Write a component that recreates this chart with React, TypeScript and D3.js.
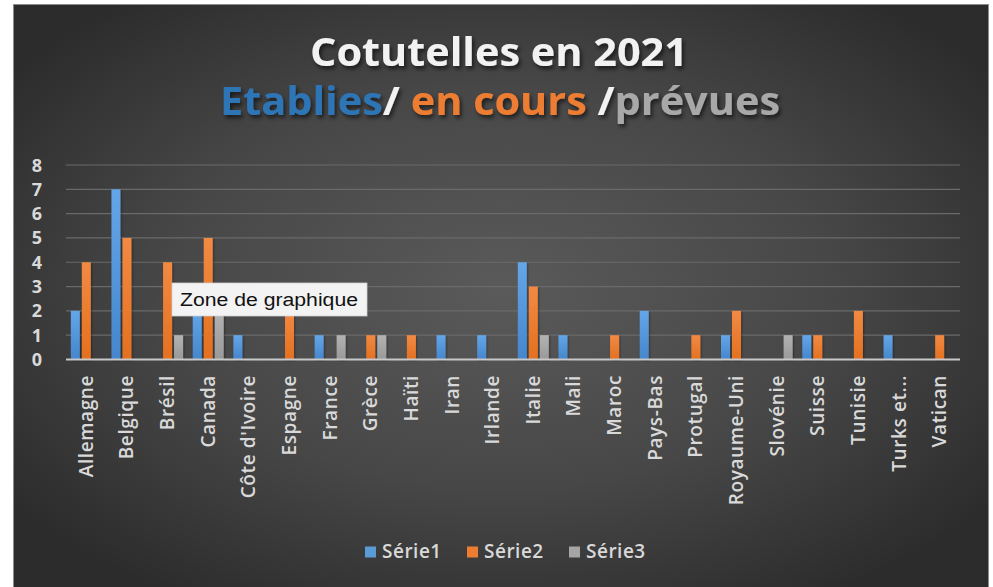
import React from "react";
import * as d3 from "d3";

const categories = [
  "Allemagne", "Belgique", "Brésil", "Canada", "Côte d'Ivoire", "Espagne",
  "France", "Grèce", "Haïti", "Iran", "Irlande", "Italie", "Mali", "Maroc",
  "Pays-Bas", "Protugal", "Royaume-Uni", "Slovénie", "Suisse", "Tunisie",
  "Turks et...", "Vatican",
];
const serie1 = [2, 7, 0, 2, 1, 0, 1, 0, 0, 1, 1, 4, 1, 0, 2, 0, 1, 0, 1, 0, 1, 0];
const serie2 = [4, 5, 4, 5, 0, 2, 0, 1, 1, 0, 0, 3, 0, 1, 0, 1, 2, 0, 1, 2, 0, 1];
const serie3 = [0, 0, 1, 2, 0, 0, 1, 1, 0, 0, 0, 1, 0, 0, 0, 0, 0, 1, 0, 0, 0, 0];
const seriesNames = ["Série1", "Série2", "Série3"];
const yTicks = [0, 1, 2, 3, 4, 5, 6, 7, 8];

const W = 993;
const H = 587;
const colors = ["#5b9bd5", "#ed7d31", "#a5a5a5"];
const gradTop = ["#64a6e8", "#f28a43", "#b3b3b3"];
const gradBot = ["#4586cc", "#e4701f", "#999999"];

export default function App() {
  const x = d3.scaleBand<string>().domain(categories).range([66, 960]).paddingInner(0).paddingOuter(0);
  const y = d3.scaleLinear().domain([0, 8]).range([359.5, 165]);
  const groupW = 31;
  const inner = d3.scaleBand<string>().domain(seriesNames).range([0, groupW]).paddingInner(0.18);
  const data = [serie1, serie2, serie3];
  const font = "'Open Sans', sans-serif";
  const labelColor = "#d9d9d9";

  return (
    <svg width={W} height={H} style={{ position: "absolute", left: 0, top: 0 }}>
      <defs>
        <radialGradient id="bg" cx="50%" cy="48%" r="62%">
          <stop offset="0%" stopColor="#5a5a5a" />
          <stop offset="55%" stopColor="#474747" />
          <stop offset="100%" stopColor="#2c2c2c" />
        </radialGradient>
        {colors.map((c, i) => (
          <linearGradient key={i} id={`bar${i}`} x1="0" y1="0" x2="0" y2="1">
            <stop offset="0%" stopColor={gradTop[i]} />
            <stop offset="100%" stopColor={gradBot[i]} />
          </linearGradient>
        ))}
        <filter id="shadow" x="-10%" y="-30%" width="120%" height="160%">
          <feDropShadow dx="2" dy="3" stdDeviation="2" floodColor="#000" floodOpacity="0.6" />
        </filter>
        <filter id="barShadow" x="-30%" y="-10%" width="160%" height="120%">
          <feDropShadow dx="1" dy="1" stdDeviation="1" floodColor="#000" floodOpacity="0.35" />
        </filter>
      </defs>
      <rect x={0} y={0} width={W} height={H} fill="#ffffff" />
      <rect x={13.5} y={4.5} width={975} height={590} fill="url(#bg)" stroke="#8c8c8c" strokeWidth={1} />

      {/* title */}
      <g filter="url(#shadow)" fontFamily={font} fontWeight={700} textAnchor="middle">
        <text x={499} y={66} fontSize={39} fill="#f2f2f2" textLength={378} lengthAdjust="spacingAndGlyphs">
          Cotutelles en 2021
        </text>
        <text x={500} y={115} fontSize={39} textLength={560} lengthAdjust="spacingAndGlyphs">
          <tspan fill="#2e75b6">Etablies</tspan>
          <tspan fill="#f2f2f2">/ </tspan>
          <tspan fill="#ed7d31">en cours </tspan>
          <tspan fill="#f2f2f2">/</tspan>
          <tspan fill="#a8a8a8">prévues</tspan>
        </text>
      </g>

      {/* gridlines */}
      {yTicks.filter((t) => t > 0).map((t) => (
        <line key={t} x1={66} x2={960} y1={y(t)} y2={y(t)} stroke="#6a6a6a" strokeWidth={1.2} />
      ))}

      {/* y labels */}
      {yTicks.map((t) => (
        <text key={t} x={37} y={y(t) + 6.5} fontFamily={font} fontSize={18} fontWeight={700} fill={labelColor} textAnchor="middle">
          {t}
        </text>
      ))}

      {/* bars */}
      {categories.map((c, ci) => {
        const gx = (x(c) as number) + (x.bandwidth() - groupW) / 2;
        return (
          <g key={c}>
            {data.map((s, si) =>
              s[ci] > 0 ? (
                <rect
                  key={si}
                  x={gx + (inner(seriesNames[si]) as number)}
                  y={y(s[ci])}
                  width={inner.bandwidth()}
                  height={y(0) - y(s[ci])}
                  fill={`url(#bar${si})`}
                  filter="url(#barShadow)"
                />
              ) : null
            )}
          </g>
        );
      })}

      {/* zero axis */}
      <line x1={66} x2={960} y1={y(0)} y2={y(0)} stroke="#c8c8c8" strokeWidth={2} />

      {/* x labels */}
      {categories.map((c) => {
        const cx = (x(c) as number) + x.bandwidth() / 2 + 6.5;
        return (
          <text
            key={c}
            transform={`translate(${cx},${375}) rotate(-90)`}
            fontFamily={font}
            fontSize={19}
            fontWeight={600}
            letterSpacing={0.6}
            fill={labelColor}
            textAnchor="end"
          >
            {c}
          </text>
        );
      })}

      {/* legend */}
      {seriesNames.map((n, i) => {
        const lx = [365, 467, 569][i];
        return (
          <g key={n}>
            <rect x={lx} y={546.5} width={11} height={11} fill={colors[i]} />
            <text x={lx + 17} y={558} fontFamily={font} fontSize={19} fontWeight={600} letterSpacing={0.5} fill={labelColor}>
              {n}
            </text>
          </g>
        );
      })}

      {/* tooltip */}
      <rect x={172} y={283} width={195} height={33} fill="#f3f3f3" stroke="#d0d0d0" strokeWidth={0.8} />
      <text x={180} y={306} fontFamily="'Liberation Sans', Arial, sans-serif" fontSize={18} fill="#111" textLength={178} lengthAdjust="spacingAndGlyphs">
        Zone de graphique
      </text>
    </svg>
  );
}
